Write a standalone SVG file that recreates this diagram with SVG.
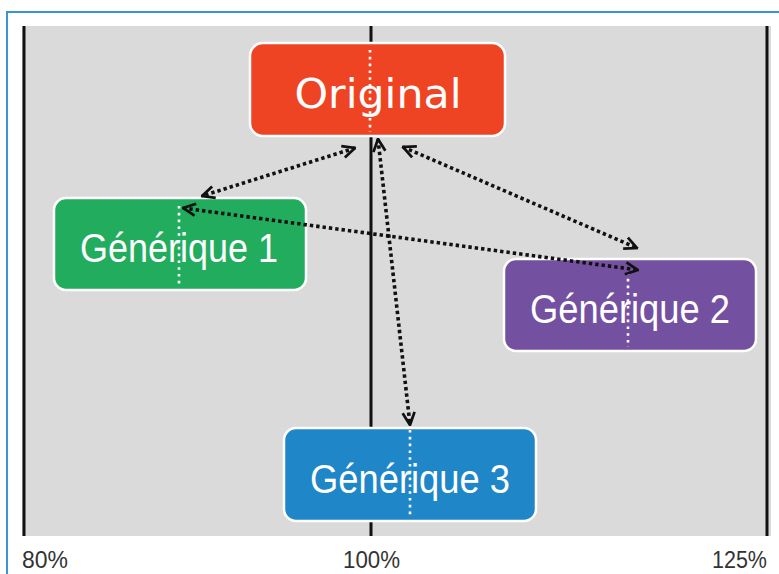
<svg xmlns="http://www.w3.org/2000/svg" width="779" height="574" viewBox="0 0 779 574">
<style>
.frame{fill:none;stroke:#3b95d0;stroke-width:2}
.axis{stroke:#111;stroke-width:3}
.box{stroke:#fff;stroke-width:2.5}
.vdot{stroke:#fff;stroke-width:2.6;stroke-dasharray:2.6 4.2}
.lbl{fill:#fff;font-family:"Liberation Sans",Arial,sans-serif;font-size:40px;text-anchor:middle}
.orig{fill:#fff;font-family:"DejaVu Sans","Noto Sans",sans-serif;font-size:41px;text-anchor:middle}
.pct{fill:#333;font-family:"Liberation Sans",Arial,sans-serif;font-size:24px}
.con{stroke:#111;stroke-width:3.6;stroke-dasharray:3.4 3;fill:none;marker-start:url(#ah);marker-end:url(#ah)}
</style>
<defs>
<marker id="ah" viewBox="0 0 12 12" refX="11" refY="6" markerWidth="15" markerHeight="15" markerUnits="userSpaceOnUse" orient="auto-start-reverse">
<path d="M1,1.2 L11,6 L1,10.8" fill="none" stroke="#111" stroke-width="2.2"/>
</marker>
</defs>
<rect x="0" y="0" width="779" height="574" fill="#fff"/>
<path class="frame" d="M7,574 V12 H779"/>
<rect x="22" y="26" width="749" height="510" fill="#d9dad9"/>
<g id="axes">
<line class="axis" x1="24" y1="26" x2="24" y2="536"/>
<line class="axis" x1="371" y1="26" x2="371" y2="536"/>
<line class="axis" x1="767" y1="26" x2="767" y2="536"/>
</g>
<g id="original">
<rect class="box" x="250" y="43" width="255" height="93" rx="13" fill="#ef4423"/>
<text class="orig" x="378" y="108" textLength="167" lengthAdjust="spacingAndGlyphs">Original</text>
<line class="vdot" x1="370" y1="50" x2="370" y2="132"/>
</g>
<g id="generique1">
<rect class="box" x="54" y="198" width="252" height="92" rx="12" fill="#22ad5e"/>
<text class="lbl" x="179" y="262" textLength="198" lengthAdjust="spacingAndGlyphs">Générique 1</text>
<line class="vdot" x1="179" y1="206" x2="179" y2="286"/>
</g>
<g id="generique2">
<rect class="box" x="504" y="259" width="252" height="92" rx="12" fill="#7450a1"/>
<text class="lbl" x="630" y="323" textLength="200" lengthAdjust="spacingAndGlyphs">Générique 2</text>
<line class="vdot" x1="628" y1="272" x2="628" y2="347"/>
</g>
<g id="generique3">
<rect class="box" x="284" y="428" width="252" height="93" rx="12" fill="#1f86c8"/>
<text class="lbl" x="410" y="493" textLength="200" lengthAdjust="spacingAndGlyphs">Générique 3</text>
<line class="vdot" x1="410" y1="430" x2="410" y2="517"/>
</g>
<g id="connectors">
<line class="con" x1="355" y1="148" x2="202" y2="196"/>
<line class="con" x1="403" y1="147" x2="637" y2="248"/>
<line class="con" x1="183" y1="208" x2="638" y2="270"/>
<line class="con" x1="378" y1="139" x2="410" y2="425"/>
</g>
<g id="scale">
<text class="pct" x="22" y="568" textLength="46" lengthAdjust="spacingAndGlyphs">80%</text>
<text class="pct" x="343" y="568" textLength="57" lengthAdjust="spacingAndGlyphs">100%</text>
<text class="pct" x="712" y="568" textLength="55" lengthAdjust="spacingAndGlyphs">125%</text>
</g>
</svg>
